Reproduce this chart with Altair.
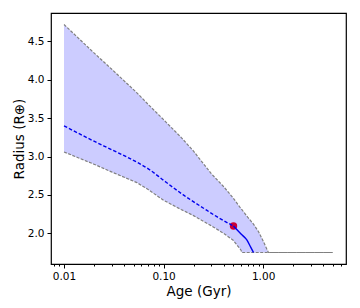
import altair as alt
import pandas as pd

# band (age grid, lower and upper radius)
band_age = [0.01, 0.02, 0.03, 0.054, 0.07, 0.1, 0.15, 0.2, 0.3, 0.4, 0.5, 0.6, 0.61, 0.7, 0.8, 0.9, 1.0, 1.13, 5.0]
band_lo = [3.06, 2.90, 2.80, 2.66, 2.57, 2.43, 2.31, 2.23, 2.10, 2.00, 1.91, 1.78, 1.75, 1.75, 1.75, 1.75, 1.75, 1.75, 1.75]
band_hi = [4.72, 4.35, 4.14, 3.83, 3.68, 3.48, 3.25, 3.07, 2.78, 2.61, 2.46, 2.32, 2.31, 2.21, 2.12, 2.02, 1.90, 1.75, 1.75]

# median track: dashed (before the present age), solid (after)
dash_age = [0.01, 0.02, 0.03, 0.055, 0.073, 0.1, 0.158, 0.25, 0.343, 0.504]
dash_r = [3.40, 3.20, 3.09, 2.92, 2.825, 2.69, 2.50, 2.33, 2.216, 2.095]
solid_age = [0.504, 0.6, 0.686, 0.75, 0.8]
solid_r = [2.095, 1.99, 1.913, 1.82, 1.75]

# present-day planet
pt_age = [0.504]
pt_r = [2.095]

x_major = [0.01, 0.1, 1.0]
x_minor = [0.008, 0.009, 0.02, 0.03, 0.04, 0.05, 0.06, 0.07, 0.08, 0.09,
           0.2, 0.3, 0.4, 0.5, 0.6, 0.7, 0.8, 0.9, 2, 3, 4, 5, 6]
y_ticks = [2.0, 2.5, 3.0, 3.5, 4.0, 4.5]

band = pd.DataFrame({"age": band_age, "lo": band_lo, "hi": band_hi})
dash = pd.DataFrame({"age": dash_age, "r": dash_r})
solid = pd.DataFrame({"age": solid_age, "r": solid_r})
pt = pd.DataFrame({"age": pt_age, "r": pt_r})

xs = alt.Scale(type="log", domain=[0.0074, 6.8], nice=False)
ys = alt.Scale(domain=[1.6, 4.87], nice=False, zero=False)

major_test = "abs(log(datum.value)/LN10 - round(log(datum.value)/LN10)) < 0.001"

xax = alt.Axis(values=sorted(x_major + x_minor),
               labelExpr="(" + major_test + ") ? format(datum.value, '.2f') : ''",
               tickSize={"condition": {"test": major_test, "value": 4}, "value": 2},
               title="Age (Gyr)", grid=False,
               labelFontSize=10.5, titleFontSize=13.5, labelPadding=3,
               titlePadding=3, domain=False, tickColor="black", labelColor="black",
               titleColor="black", titleFontWeight="normal", labelFlush=False,
               labelOverlap=False)
yax = alt.Axis(values=y_ticks, format=".1f", title="Radius (R⊕)", grid=False,
               labelFontSize=10.5, titleFontSize=13.5, tickSize=4, labelPadding=3,
               titlePadding=1, domain=False, tickColor="black", labelColor="black",
               titleColor="black", titleFontWeight="normal")

area = alt.Chart(band).mark_area(color="#ccccff", opacity=1).encode(
    x=alt.X("age:Q", scale=xs, axis=xax),
    y=alt.Y("lo:Q", scale=ys, axis=yax),
    y2="hi:Q",
)
lo_line = alt.Chart(band).mark_line(color="#808080", strokeWidth=1.2, strokeDash=[3, 1.5]).encode(
    x=alt.X("age:Q", scale=xs), y=alt.Y("lo:Q", scale=ys))
hi_line = alt.Chart(band).mark_line(color="#808080", strokeWidth=1.2, strokeDash=[3, 1.5]).encode(
    x=alt.X("age:Q", scale=xs), y=alt.Y("hi:Q", scale=ys))

point = alt.Chart(pt).mark_circle(color="#cc0033", size=55, opacity=1).encode(
    x=alt.X("age:Q", scale=xs), y=alt.Y("r:Q", scale=ys))
dash_line = alt.Chart(dash).mark_line(color="#0000ee", strokeWidth=1.4, strokeDash=[3.5, 2],
                                      interpolate="monotone").encode(
    x=alt.X("age:Q", scale=xs), y=alt.Y("r:Q", scale=ys))
solid_line = alt.Chart(solid).mark_line(color="#0000ee", strokeWidth=1.4, interpolate="monotone").encode(
    x=alt.X("age:Q", scale=xs), y=alt.Y("r:Q", scale=ys))

chart = alt.layer(area, lo_line, hi_line, point, dash_line, solid_line).properties(
    width=295, height=251,
    autosize=alt.AutoSizeParams(type="none"),
    padding={"left": 43, "top": 5, "right": 6, "bottom": 36},
).configure_view(stroke="black", strokeWidth=1.2).configure_axis(
    labelFont="DejaVu Sans", titleFont="DejaVu Sans")

chart.save("out.html", embed_options={"renderer": "svg", "actions": False})
